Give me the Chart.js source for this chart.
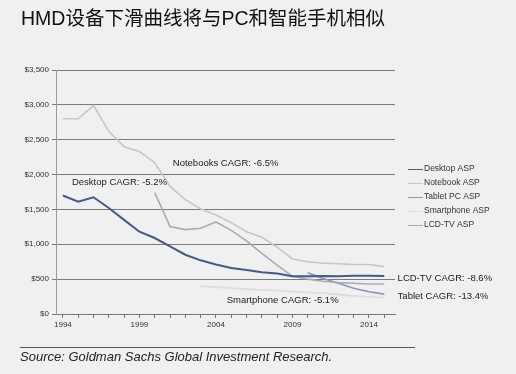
<!DOCTYPE html>
<html>
<head>
<meta charset="utf-8">
<script src="https://cdn.jsdelivr.net/npm/chart.js@4"></script>
<style>
  html, body { margin: 0; padding: 0; background: #f0f0f0; }
  #box { width: 516px; height: 374px; position: relative; }
</style>
</head>
<body>
<div id="box"><canvas id="grafico" width="516" height="374"></canvas></div>
<script>
// años del eje x
const anios = [1994, 1995, 1996, 1997, 1998, 1999, 2000, 2001, 2002, 2003, 2004,
               2005, 2006, 2007, 2008, 2009, 2010, 2011, 2012, 2013, 2014, 2015];
const etiquetasX = [1994, 1999, 2004, 2009, 2014];
const ticksY = [0, 500, 1000, 1500, 2000, 2500, 3000, 3500];

// series (null = sin dato)
const desktop = [1700, 1610, 1675, 1520, 1350, 1180, 1090, 970, 850, 770, 710,
                 660, 630, 600, 580, 540, 540, 545, 540, 550, 550, 545];
const notebook = [2800, 2800, 2990, 2620, 2400, 2330, 2170, 1830, 1640, 1510, 1420,
                  1310, 1180, 1100, 960, 790, 750, 730, 720, 710, 710, 680];
const tablet = [null, null, null, null, null, null, null, null, null, null, null,
                null, null, null, null, null, 590, 510, 440, 370, 320, 285];
const smartphone = [null, null, null, null, null, null, null, null, null, 400, 385,
                    370, 355, 345, 335, 320, 310, 300, 280, 260, 245, 235];
const lcdtv = [null, null, null, null, null, null, 1740, 1255, 1210, 1230, 1320,
               1200, 1050, 870, 700, 540, 500, 470, 450, 440, 430, 430];

const nombres = ["Desktop ASP", "Notebook ASP", "Tablet PC ASP", "Smartphone ASP", "LCD-TV ASP"];
const colores = ["#4a5888", "#c6c6cc", "#8d94b8", "#dcdce0", "#a9aab4"];

// textos sobre el gráfico: [texto, año, valor]
const notas = [
    ["Notebooks CAGR: -6.5%", 2001.18, 2166],
    ["Desktop CAGR: -5.2%", 1994.59, 1893],
    ["Smartphone CAGR: -5.1%", 2004.7, 201],
    ["LCD-TV CAGR: -8.6%", 2015.87, 516],
    ["Tablet CAGR: -13.4%", 2015.87, 258],
];

const titulo = "HMD设备下滑曲线将与PC和智能手机相似";
const fuente = "Source: Goldman Sachs Global Investment Research.";
const familia = "'Liberation Sans', Arial, 'Noto Sans CJK SC', sans-serif";

const series = [desktop, notebook, tablet, smartphone, lcdtv];
const anchos = [2, 1.6, 1.6, 1.8, 1.6];

const datasets = series.map((s, i) => ({
    label: nombres[i],
    data: s.map((v, j) => ({ x: anios[j], y: v })),
    borderColor: colores[i],
    backgroundColor: colores[i],
    borderWidth: anchos[i],
    pointRadius: 0,
    tension: 0,
    spanGaps: false,
}));
// el orden de dibujo: claros primero, desktop encima
datasets.forEach((d, i) => { d.order = i === 0 ? 0 : 5 - i; });

const extras = {
    id: "extras",
    afterDraw(chart) {
        const ctx = chart.ctx;
        const x = chart.scales.x;
        const y = chart.scales.y;
        ctx.save();
        // título
        ctx.fillStyle = "#111";
        ctx.font = "19.5px 'Liberation Sans', 'Noto Sans CJK SC', sans-serif";
        ctx.textBaseline = "middle";
        ctx.textAlign = "left";
        ctx.fillText(titulo, 21, 20);
        // notas
        ctx.font = "9.5px " + familia;
        ctx.fillStyle = "#222";
        notas.forEach((n) => {
            ctx.fillText(n[0], x.getPixelForValue(n[1]), y.getPixelForValue(n[2]));
        });
        // leyenda
        ctx.font = "8.5px " + familia;
        nombres.forEach((nombre, i) => {
            const yy = 169 + i * 14;
            ctx.strokeStyle = colores[i];
            ctx.lineWidth = 1;
            ctx.beginPath();
            ctx.moveTo(408, yy + 0.5);
            ctx.lineTo(423, yy + 0.5);
            ctx.stroke();
            ctx.fillStyle = "#333";
            ctx.fillText(nombre, 424, yy);
        });
        // línea y fuente
        ctx.strokeStyle = "#555";
        ctx.lineWidth = 1;
        ctx.beginPath();
        ctx.moveTo(20, 347.5);
        ctx.lineTo(415, 347.5);
        ctx.stroke();
        ctx.fillStyle = "#222";
        ctx.font = "italic 13px " + familia;
        ctx.fillText(fuente, 20, 357);
        ctx.restore();
    },
};

new Chart(document.getElementById("grafico"), {
    type: "line",
    data: { datasets: datasets },
    options: {
        responsive: false,
        animation: false,
        layout: {
            padding: { left: 0, top: 70, right: 121, bottom: 0 },
        },
        plugins: {
            legend: { display: false },
            tooltip: { enabled: false },
        },
        scales: {
            x: {
                type: "linear",
                min: 1993.55,
                max: 2015.7,
                afterBuildTicks: (scale) => {
                    scale.ticks = anios.map((a) => ({ value: a }));
                },
                afterFit: (scale) => { scale.height = 60; },
                ticks: {
                    autoSkip: false,
                    maxRotation: 0,
                    padding: 2,
                    color: "#333",
                    font: { size: 8, family: familia },
                    callback: (v) => (etiquetasX.includes(v) ? String(v) : ""),
                },
                grid: {
                    drawOnChartArea: false,
                    drawTicks: true,
                    tickLength: 4,
                    color: "#777",
                },
                border: { color: "#777", width: 1 },
            },
            y: {
                min: 0,
                max: 3500,
                afterBuildTicks: (scale) => {
                    scale.ticks = ticksY.map((v) => ({ value: v }));
                },
                afterFit: (scale) => { scale.width = 56; },
                ticks: {
                    padding: 3,
                    color: "#333",
                    font: { size: 8, family: familia },
                    callback: (v) => "$" + v.toLocaleString("en-US"),
                },
                grid: {
                    color: "#7a7a7a",
                    lineWidth: 1,
                    tickLength: 4,
                },
                border: { color: "#999", width: 1 },
            },
        },
    },
    plugins: [extras],
});
</script>
</body>
</html>
